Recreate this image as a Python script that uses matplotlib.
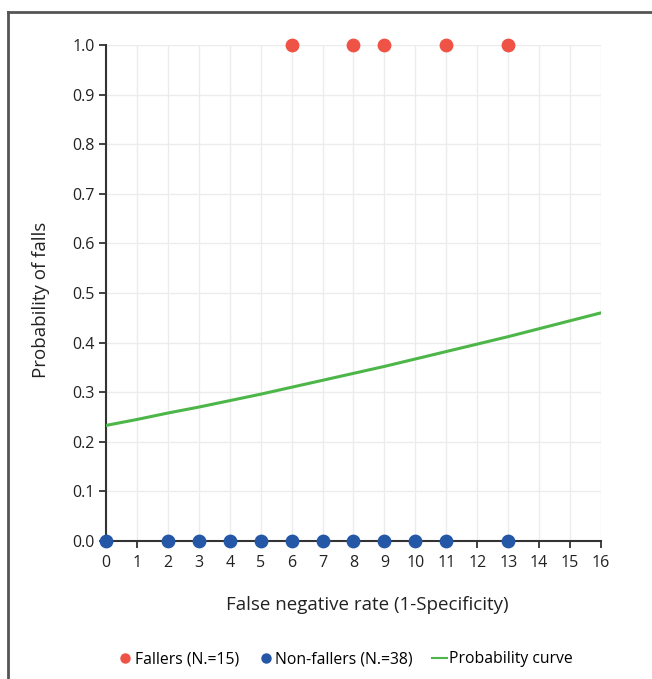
import matplotlib.pyplot as plt
from matplotlib.lines import Line2D

plt.rcParams['font.family'] = ['Open Sans', 'DejaVu Sans']

# data
fallers_x = [6, 8, 9, 11, 13]
fallers_y = [1, 1, 1, 1, 1]
nonfallers_x = [0, 2, 3, 4, 5, 6, 7, 8, 9, 10, 11, 13]
nonfallers_y = [0] * len(nonfallers_x)
curve_x = [0, 1, 2, 3, 4, 5, 6, 7, 8, 9, 10, 11, 12, 13, 14, 15, 16]
curve_y = [0.233, 0.245, 0.258, 0.270, 0.283, 0.296, 0.310, 0.324, 0.338,
           0.352, 0.367, 0.382, 0.397, 0.412, 0.428, 0.444, 0.460]

red = '#ef5346'
blue = '#2557a7'
green = '#4cb648'

fig = plt.figure(figsize=(6.52, 6.79), dpi=100)
ax = fig.add_axes([106/652, 1-541/679, 495/652, 496/679])

ax.plot(curve_x, curve_y, color=green, lw=2.2, zorder=3)
ax.scatter(fallers_x, fallers_y, s=80, color=red, zorder=4, clip_on=False)
ax.scatter(nonfallers_x, nonfallers_y, s=80, color=blue, zorder=4, clip_on=False)

ax.set_xlim(0, 16)
ax.set_ylim(0, 1)
ax.set_xticks(range(0, 17))
ax.set_yticks([i/10 for i in range(11)])
ax.set_yticklabels(['%.1f' % (i/10) for i in range(11)])
ax.grid(True, color='#ececec', lw=1)
ax.set_axisbelow(True)
for s in ['top', 'right']:
    ax.spines[s].set_visible(False)
for s in ['left', 'bottom']:
    ax.spines[s].set_color('#333333')
    ax.spines[s].set_linewidth(1.5)
ax.tick_params(colors='#333333', labelsize=11.5, length=5, width=1.3, pad=3)
ax.tick_params(axis='x', labelcolor='#222222', pad=5)
ax.tick_params(axis='y', labelcolor='#222222')

ax.set_xlabel('False negative rate (1-Specificity)', fontsize=13.5, color='#222222')
ax.set_ylabel('Probability of falls', fontsize=13.5, color='#222222')
ax.xaxis.set_label_coords(0.527, -0.111)
ax.yaxis.set_label_coords(-0.113, 0.486)

handles = [
    Line2D([], [], marker='o', ls='none', color=red, markersize=6.5),
    Line2D([], [], marker='o', ls='none', color=blue, markersize=6.5),
    Line2D([], [], color=green, lw=1.5),
]
labels = ['Fallers (N.=15)', 'Non-fallers (N.=38)', 'Probability curve']
fig.legend(handles, labels, loc='center', bbox_to_anchor=(345/652, 1-659/679),
           ncol=3, frameon=False, fontsize=11.3, handlelength=1.0,
           handletextpad=0.1, columnspacing=1.2)

# outer frame (top and left edges visible)
fig.add_artist(Line2D([8/652, 8/652], [0, 1-12/679], color='#555555', lw=2, transform=fig.transFigure))
fig.add_artist(Line2D([8/652, 1], [1-12/679, 1-12/679], color='#555555', lw=2, transform=fig.transFigure))

fig.savefig('out.png', dpi=100)
